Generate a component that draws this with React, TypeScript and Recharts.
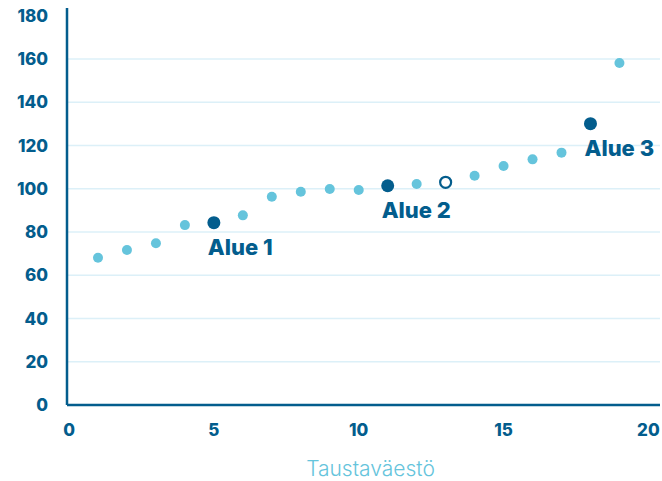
import {
  ScatterChart, Scatter, XAxis, YAxis, CartesianGrid, LabelList, Label,
} from 'recharts';

const xValues = [1, 2, 3, 4, 6, 7, 8, 9, 10, 12, 14, 15, 16, 17, 19];
const yValues = [68.1, 71.7, 74.8, 83.2, 87.7, 96.3, 98.6, 99.9, 99.4, 102.2, 106, 110.5, 113.6, 116.7, 158.2];

const areaNames = ['Alue 1', 'Alue 2', 'Alue 3'];
const areaX = [5, 11, 18];
const areaY = [84.3, 101.4, 130.1];

const hollowX = [13];
const hollowY = [103];

const xTicks = [0, 5, 10, 15, 20];
const yTicks = [0, 20, 40, 60, 80, 100, 120, 140, 160, 180];
const gridValues = [20, 40, 60, 80, 100, 120, 140, 160];

const DARK = '#035d8d';
const LIGHT = '#65c4dc';
const GRID = '#dcf0f8';
const FONT = 'Inter, "Open Sans", sans-serif';

const lightData = xValues.map((x, i) => ({ x, y: yValues[i] }));
const areaData = areaX.map((x, i) => ({ x, y: areaY[i], name: areaNames[i] }));
const hollowData = hollowX.map((x, i) => ({ x, y: hollowY[i] }));

const tickStyle = { fontSize: 17, fontWeight: 800, fill: DARK, fontFamily: FONT };

export default function App() {
  return (
    <div style={{ position: 'absolute', left: 0, top: 0 }}>
      <ScatterChart width={662} height={481} margin={{ top: 8, right: 2, left: 7, bottom: 2 }}>
        <CartesianGrid
          vertical={false}
          horizontalValues={gridValues}
          stroke={GRID}
          strokeWidth={1.5}
        />
        <XAxis
          type="number"
          dataKey="x"
          domain={[-0.07, 20.4]}
          ticks={xTicks}
          tickLine={false}
          tickSize={0}
          tickMargin={19}
          axisLine={{ stroke: DARK, strokeWidth: 2.5 }}
          tick={tickStyle}
          height={74}
          allowDataOverflow
        >
          <Label
            value="Taustaväestö"
            position="insideBottom"
            offset={3}
            dx={7}
            style={{ fontSize: 21, fontWeight: 300, fill: LIGHT, fontFamily: FONT }}
          />
        </XAxis>
        <YAxis
          type="number"
          dataKey="y"
          domain={[0, 183.6]}
          ticks={yTicks}
          tickLine={false}
          tickSize={0}
          tickMargin={19}
          axisLine={{ stroke: DARK, strokeWidth: 2.5 }}
          tick={tickStyle}
          width={60}
        />
        <Scatter
          data={lightData}
          isAnimationActive={false}
          shape={(p: any) => <circle cx={p.cx} cy={p.cy} r={5} fill={LIGHT} />}
        />
        <Scatter
          data={hollowData}
          isAnimationActive={false}
          shape={(p: any) => (
            <circle cx={p.cx} cy={p.cy} r={5.5} fill="#fff" stroke={DARK} strokeWidth={2.2} />
          )}
        />
        <Scatter
          data={areaData}
          isAnimationActive={false}
          shape={(p: any) => <circle cx={p.cx} cy={p.cy} r={6.5} fill={DARK} />}
        >
          <LabelList
            dataKey="name"
            content={(p: any) => (
              <text
                x={p.x + p.width / 2 - 6}
                y={p.y + p.height / 2 + 32}
                fill={DARK}
                fontSize={22}
                fontWeight={800}
                fontFamily={FONT}
              >
                {p.value}
              </text>
            )}
          />
        </Scatter>
      </ScatterChart>
    </div>
  );
}
